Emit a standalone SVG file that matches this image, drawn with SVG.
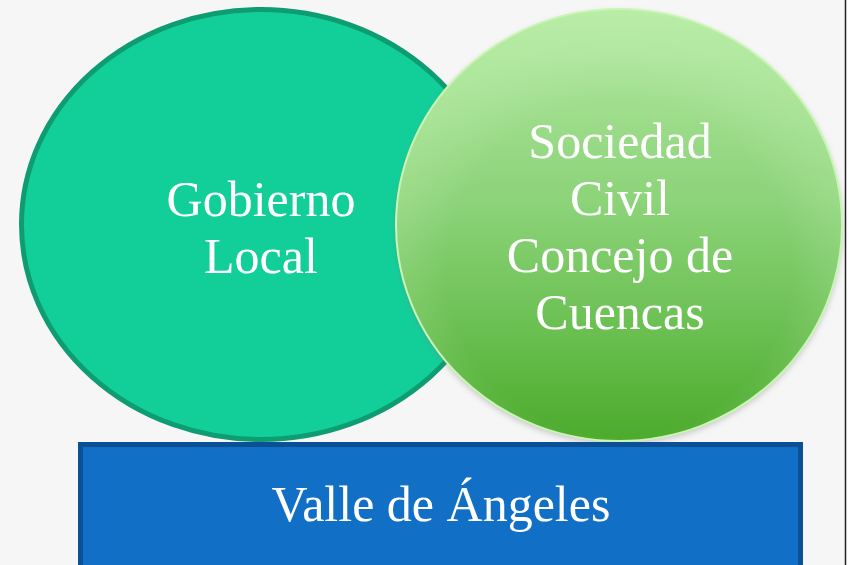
<svg xmlns="http://www.w3.org/2000/svg" width="849" height="565" viewBox="0 0 849 565">
  <style>
    .lbl { font-family: "Liberation Serif", "DejaVu Serif", serif; fill: #ffffff; text-anchor: middle; }
    .big { font-size: 50px; }
  </style>
  <defs>
    <linearGradient id="greenLin" x1="0" y1="0" x2="0" y2="1">
      <stop offset="0" stop-color="#B2E8A0"/>
      <stop offset="0.45" stop-color="#8CD379"/>
      <stop offset="0.75" stop-color="#69BF50"/>
      <stop offset="1" stop-color="#4BAA2B"/>
    </linearGradient>
    <radialGradient id="greenRim" cx="0.5" cy="0.6" r="0.55">
      <stop offset="0.7" stop-color="#ffffff" stop-opacity="0"/>
      <stop offset="1" stop-color="#D8FFC8" stop-opacity="0.2"/>
    </radialGradient>
    <filter id="soft" x="-10%" y="-10%" width="120%" height="120%">
      <feGaussianBlur stdDeviation="3"/>
    </filter>
  </defs>

  <rect x="0" y="0" width="849" height="565" fill="#F6F6F6"/>
  <rect x="846" y="0" width="3" height="565" fill="#ffffff"/>
  <line x1="845.5" y1="0" x2="845.5" y2="565" stroke="#222222" stroke-width="1.5"/>

  <g id="gobierno-local">
    <ellipse cx="261" cy="224.5" rx="239.5" ry="215" fill="#12CF9A" stroke="#0E9C72" stroke-width="5"/>
    <text class="lbl big" x="261" y="216">Gobierno</text>
    <text class="lbl big" x="261" y="273">Local</text>
  </g>

  <g id="sociedad-civil">
    <ellipse cx="619" cy="228" rx="223" ry="216" fill="#7a7a7a" opacity="0.4" filter="url(#soft)"/>
    <ellipse cx="619" cy="225" rx="223" ry="216" fill="url(#greenLin)"/>
    <ellipse cx="619" cy="225" rx="223" ry="216" fill="url(#greenRim)" stroke="#C9F6B4" stroke-width="2"/>
    <text class="lbl big" x="620" y="158">Sociedad</text>
    <text class="lbl big" x="620" y="215">Civil</text>
    <text class="lbl big" x="620" y="272">Concejo de</text>
    <text class="lbl big" x="620" y="329">Cuencas</text>
  </g>

  <g id="valle-de-angeles">
    <rect x="80.5" y="444.5" width="720" height="130" fill="#116FC6" stroke="#0B4F95" stroke-width="5"/>
    <text class="lbl big" x="441" y="521">Valle de Ángeles</text>
  </g>

  <g id="connectors"></g>
</svg>
